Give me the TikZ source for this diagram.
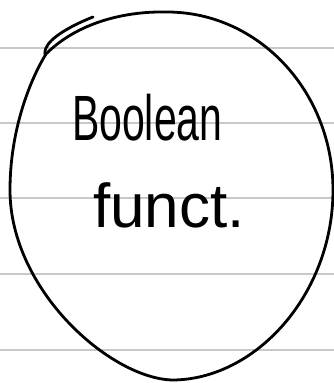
\documentclass[tikz,border=0pt]{standalone}
\usepackage{fontspec}
\setmainfont{Liberation Sans}
\usepackage{xcolor}
\usepackage{tikz}
\definecolor{pageline}{HTML}{C8C8C8}
\definecolor{penink}{HTML}{000000}

\begin{document}
\begin{tikzpicture}[x=1pt,y=-1pt,
    ink/.style={draw=penink, line width=2.8pt, line cap=round, line join=round},
    word/.style={anchor=base west, inner sep=0pt, text=penink}]

  \useasboundingbox (0,0) rectangle (334,383);

  % ================= the ruled page =================
  \fill[white] (0,0) rectangle (334,383);
  \foreach \y in {48,123,198,274,350}{
    \draw[pageline, line width=1.4pt] (0,\y) -- (334,\y);}

  % ---- the loop round the words: a small hook at top left, then once round ----
  \draw[ink] (93,17) .. controls (70,26) and (50,38) .. (46,48)
             .. controls (44,53) and (45,56) .. (46,54);
  \draw[ink] (46,54) .. controls (75,25) and (120,11) .. (167,12)
             .. controls (259,12) and (333,92) .. (333,190)
             .. controls (333,295) and (255,380) .. (172,380)
             .. controls (110,378) and (10,290) .. (10,190)
             .. controls (10,130) and (30,80) .. (46,54);

  % ---- the words inside ----
  \node[word, font=\fontsize{64}{64}\selectfont, xscale=0.64] (boolean) at (72,140) {Boolean};
  \node[word, font=\fontsize{62}{62}\selectfont] (funct) at (93,227) {funct.};
\end{tikzpicture}
\end{document}
